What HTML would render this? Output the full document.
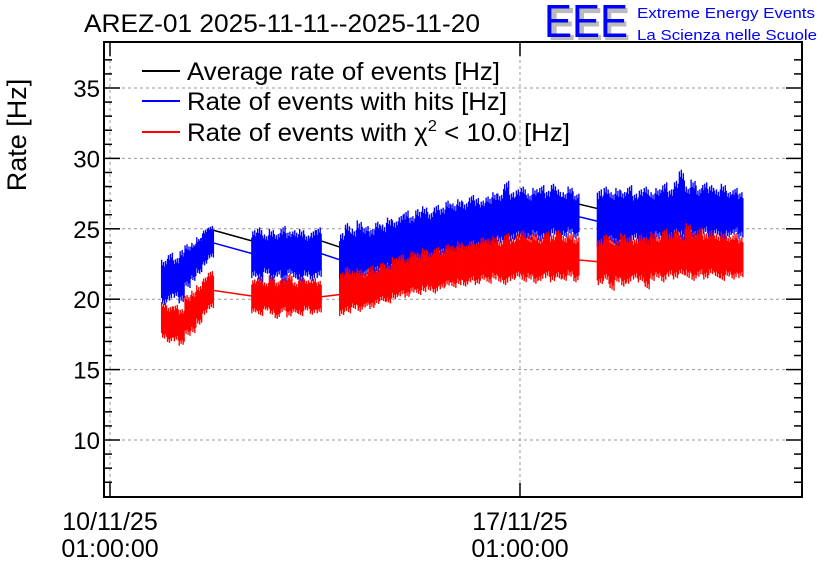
<!DOCTYPE html>
<html><head><meta charset="utf-8"><style>
body{margin:0;background:#fff;}
svg{display:block;font-family:"Liberation Sans",sans-serif;}
</style></head><body>
<svg id="chart" width="836" height="572" viewBox="0 0 836 572" xmlns="http://www.w3.org/2000/svg">
<rect width="836" height="572" fill="#fff"/>
<text x="84" y="32" font-size="25" fill="#000" textLength="396" lengthAdjust="spacingAndGlyphs">AREZ-01 2025-11-11--2025-11-20</text>
<g>
<text x="548" y="40" font-size="46" fill="#bbb" font-weight="bold" textLength="82" lengthAdjust="spacingAndGlyphs">EEE</text>
<text x="544" y="37" font-size="46" fill="#0000ff" textLength="84" lengthAdjust="spacingAndGlyphs">EEE</text>
<text x="637" y="18" font-size="15" fill="#0000ff" textLength="178" lengthAdjust="spacingAndGlyphs">Extreme Energy Events</text>
<text x="637" y="40" font-size="15" fill="#0000ff" textLength="180" lengthAdjust="spacingAndGlyphs">La Scienza nelle Scuole</text>
</g>
<text transform="translate(26,135) rotate(-90)" text-anchor="middle" font-size="27">Rate [Hz]</text>
<g id="grid"></g>
<g id="series"></g>
<g id="axes"></g>
<g>
<g><line x1="142" y1="71" x2="180" y2="71" stroke="#000" stroke-width="2"/><text x="187" y="80" font-size="25" textLength="313" lengthAdjust="spacingAndGlyphs">Average rate of events [Hz]</text></g>
<g><line x1="142" y1="101" x2="180" y2="101" stroke="#0000ff" stroke-width="2"/><text x="187" y="110" font-size="25" textLength="320" lengthAdjust="spacingAndGlyphs">Rate of events with hits [Hz]</text></g>
<g><line x1="142" y1="132" x2="180" y2="132" stroke="#ff0000" stroke-width="2"/><text x="187" y="141" font-size="25" textLength="383" lengthAdjust="spacingAndGlyphs">Rate of events with χ<tspan dy="-10" font-size="16">2</tspan><tspan dy="10"> &lt; 10.0 [Hz]</tspan></text></g>
</g>
</svg>
<script>
const segStart=[0.87,2.41,3.91,8.31];
const segCount=[9,12,41,25];
const blueHi=[22.8,23.3,22.9,23.5,23.9,24.0,24.4,25.0,25.2,
24.9,25.1,24.6,25.0,24.7,25.2,24.8,24.9,25.0,24.6,24.9,25.1,
24.7,25.4,25.0,25.6,25.2,25.0,25.5,25.3,25.8,25.6,26.0,26.3,25.9,26.4,26.6,26.2,26.7,26.5,27.0,26.8,27.1,26.9,27.4,27.2,27.0,27.3,27.6,27.5,28.4,27.6,27.8,28.0,27.5,27.9,28.1,27.7,28.2,27.8,27.6,28.0,27.5,
27.8,28.0,27.6,27.9,27.7,28.1,27.5,27.8,28.0,27.6,27.9,28.3,27.8,28.4,29.2,28.0,28.5,27.9,28.3,28.1,27.8,28.2,27.7,27.9,27.6];
const blueLo=[19.6,19.9,20.1,19.7,20.8,21.3,21.8,22.4,22.9,
21.5,21.2,21.8,21.3,21.6,21.1,21.7,21.4,21.2,21.6,21.3,21.5,
20.8,21.0,21.3,21.1,21.6,21.4,21.8,21.7,22.0,22.1,22.3,22.0,22.5,22.4,22.8,22.6,22.9,23.1,22.8,23.2,23.4,23.3,23.6,23.5,23.8,23.7,23.9,24.0,23.8,24.1,24.3,24.0,24.2,24.4,24.1,24.3,24.5,24.2,24.4,24.6,24.3,
23.2,23.8,24.0,23.7,24.1,23.9,24.2,24.0,23.8,24.1,24.3,24.0,24.2,24.4,24.1,24.5,24.3,24.2,24.6,24.3,24.5,24.2,24.4,24.6,24.3];
const redHi=[19.8,19.5,19.6,19.3,20.3,20.6,21.0,21.6,22.0,
21.4,21.6,21.2,21.7,21.3,21.5,21.8,21.2,21.6,21.4,21.5,21.3,
21.9,22.3,22.0,22.2,21.9,22.4,22.2,22.6,22.5,23.0,23.2,22.9,23.4,23.3,23.6,23.4,23.7,23.5,23.9,23.8,24.1,23.9,24.2,24.0,24.4,24.3,24.5,24.2,24.7,24.4,24.6,24.9,24.5,24.7,24.4,24.8,24.6,24.9,24.5,24.7,24.4,
24.3,24.6,24.4,24.2,24.7,24.5,24.3,24.6,24.4,24.8,24.5,25.0,24.7,24.9,24.6,25.4,24.8,25.1,24.7,24.9,24.6,24.8,24.5,24.7,24.4];
const redLo=[17.2,16.9,17.0,16.7,17.4,17.6,18.2,18.9,19.3,
19.0,18.8,19.2,18.9,18.6,19.1,18.7,19.0,18.8,19.2,18.9,19.0,
18.8,19.0,19.3,19.1,19.4,19.3,19.6,19.8,19.7,20.0,20.2,20.1,20.4,20.3,20.5,20.6,20.4,20.7,20.9,20.8,21.0,20.9,21.2,21.0,21.3,21.1,21.4,21.2,21.0,21.3,21.5,21.2,21.4,21.1,21.3,21.5,21.2,21.4,21.3,21.6,21.2,
21.0,21.3,20.6,21.2,20.9,21.1,21.4,21.2,20.7,21.3,21.5,21.2,21.6,21.4,21.7,21.5,21.3,21.6,21.4,21.7,21.5,21.3,21.6,21.4,21.5];
const yTicks=[10,15,20,25,30,35];
const xTickDays=[0,7];
const xTickLabels=[["10/11/25","01:00:00"],["17/11/25","01:00:00"]];
const STEP=0.1;

const L=104,R=802,T=42,B=497;
function xs(d){return 110+d*58.57;}
function ys(v){return 440-(v-10)*14.08;}
const NS="http://www.w3.org/2000/svg";
function mk(tag,attrs,parent){const e=document.createElementNS(NS,tag);for(const k in attrs)e.setAttribute(k,attrs[k]);parent.appendChild(e);return e;}
const grid=document.getElementById('grid'),ser=document.getElementById('series'),ax=document.getElementById('axes');

yTicks.forEach(v=>{const l=mk('line',{x1:L,x2:R,y1:ys(v),y2:ys(v),stroke:'#999','stroke-dasharray':'3,3'},grid);

});
xTickDays.forEach(d=>{const l=mk('line',{x1:xs(d),x2:xs(d),y1:T,y2:B,stroke:'#999','stroke-dasharray':'3,3'},grid);

});

const times=[];
segStart.forEach((s,k)=>{for(let i=0;i<segCount[k];i++)times.push(s+i*STEP);});
const pw=STEP*58.57;
function drawSeries(hi,lo,color,name,offset){
  const pts=times.map((t,i)=>xs(t)+pw/2+','+ys((hi[i]+lo[i])/2+offset)).join(' ');
  const pl=mk('polyline',{points:pts,fill:'none',stroke:color,'stroke-width':1.5},ser);
  
  
}
function drawBand(hi,lo,color,name){
  const g=mk('g',{},ser);
  
  
  const fr=[1,0.75,0.9,0.7,0.95,0.8];
  times.forEach((t,i)=>{
    const x=xs(t),mid=(hi[i]+lo[i])/2;
    for(let j=0;j<6;j++){
      const f=fr[(i+j)%6], f2=fr[(i+j+3)%6];
      const y1=ys(mid+(hi[i]-mid)*f), y2=ys(mid-(mid-lo[i])*f2);
      mk('rect',{x:x+j*pw/6,y:y1,width:pw/6+0.4,height:y2-y1,fill:color},g);
    }
  });
}
drawSeries(blueHi,blueLo,'#000','average-rate',0.9);
drawSeries(blueHi,blueLo,'#0000ff','hits-rate',0);
drawBand(blueHi,blueLo,'#0000ff','hits-rate');
drawSeries(redHi,redLo,'#ff0000','chi2-rate',0);
drawBand(redHi,redLo,'#ff0000','chi2-rate');

const fr=mk('rect',{x:L,y:T,width:R-L,height:B-T,fill:'none',stroke:'#000','stroke-width':2},ax);


for(let v=7;v<=37;v++){
  const major=v%5===0;const len=major?16:8;
  mk('line',{x1:L,x2:L+len,y1:ys(v),y2:ys(v),stroke:'#000','stroke-width':1.5},ax);
  mk('line',{x1:R-len,x2:R,y1:ys(v),y2:ys(v),stroke:'#000','stroke-width':1.5},ax);
}
yTicks.forEach(v=>{const t=mk('text',{x:100,y:ys(v)+9,'text-anchor':'end','font-size':24},ax);t.textContent=v;

});
xTickDays.forEach((d,i)=>{
  mk('line',{x1:xs(d),x2:xs(d),y1:B,y2:B-14,stroke:'#000','stroke-width':1.5},ax);
  mk('line',{x1:xs(d),x2:xs(d),y1:T,y2:T+14,stroke:'#000','stroke-width':1.5},ax);
  const t=mk('text',{x:xs(d),y:530,'text-anchor':'middle','font-size':25},ax);t.textContent=xTickLabels[i][0];
  
  
  const t2=mk('text',{x:xs(d),y:557,'text-anchor':'middle','font-size':25},ax);t2.textContent=xTickLabels[i][1];
  
  
});
</script>
</body></html>
